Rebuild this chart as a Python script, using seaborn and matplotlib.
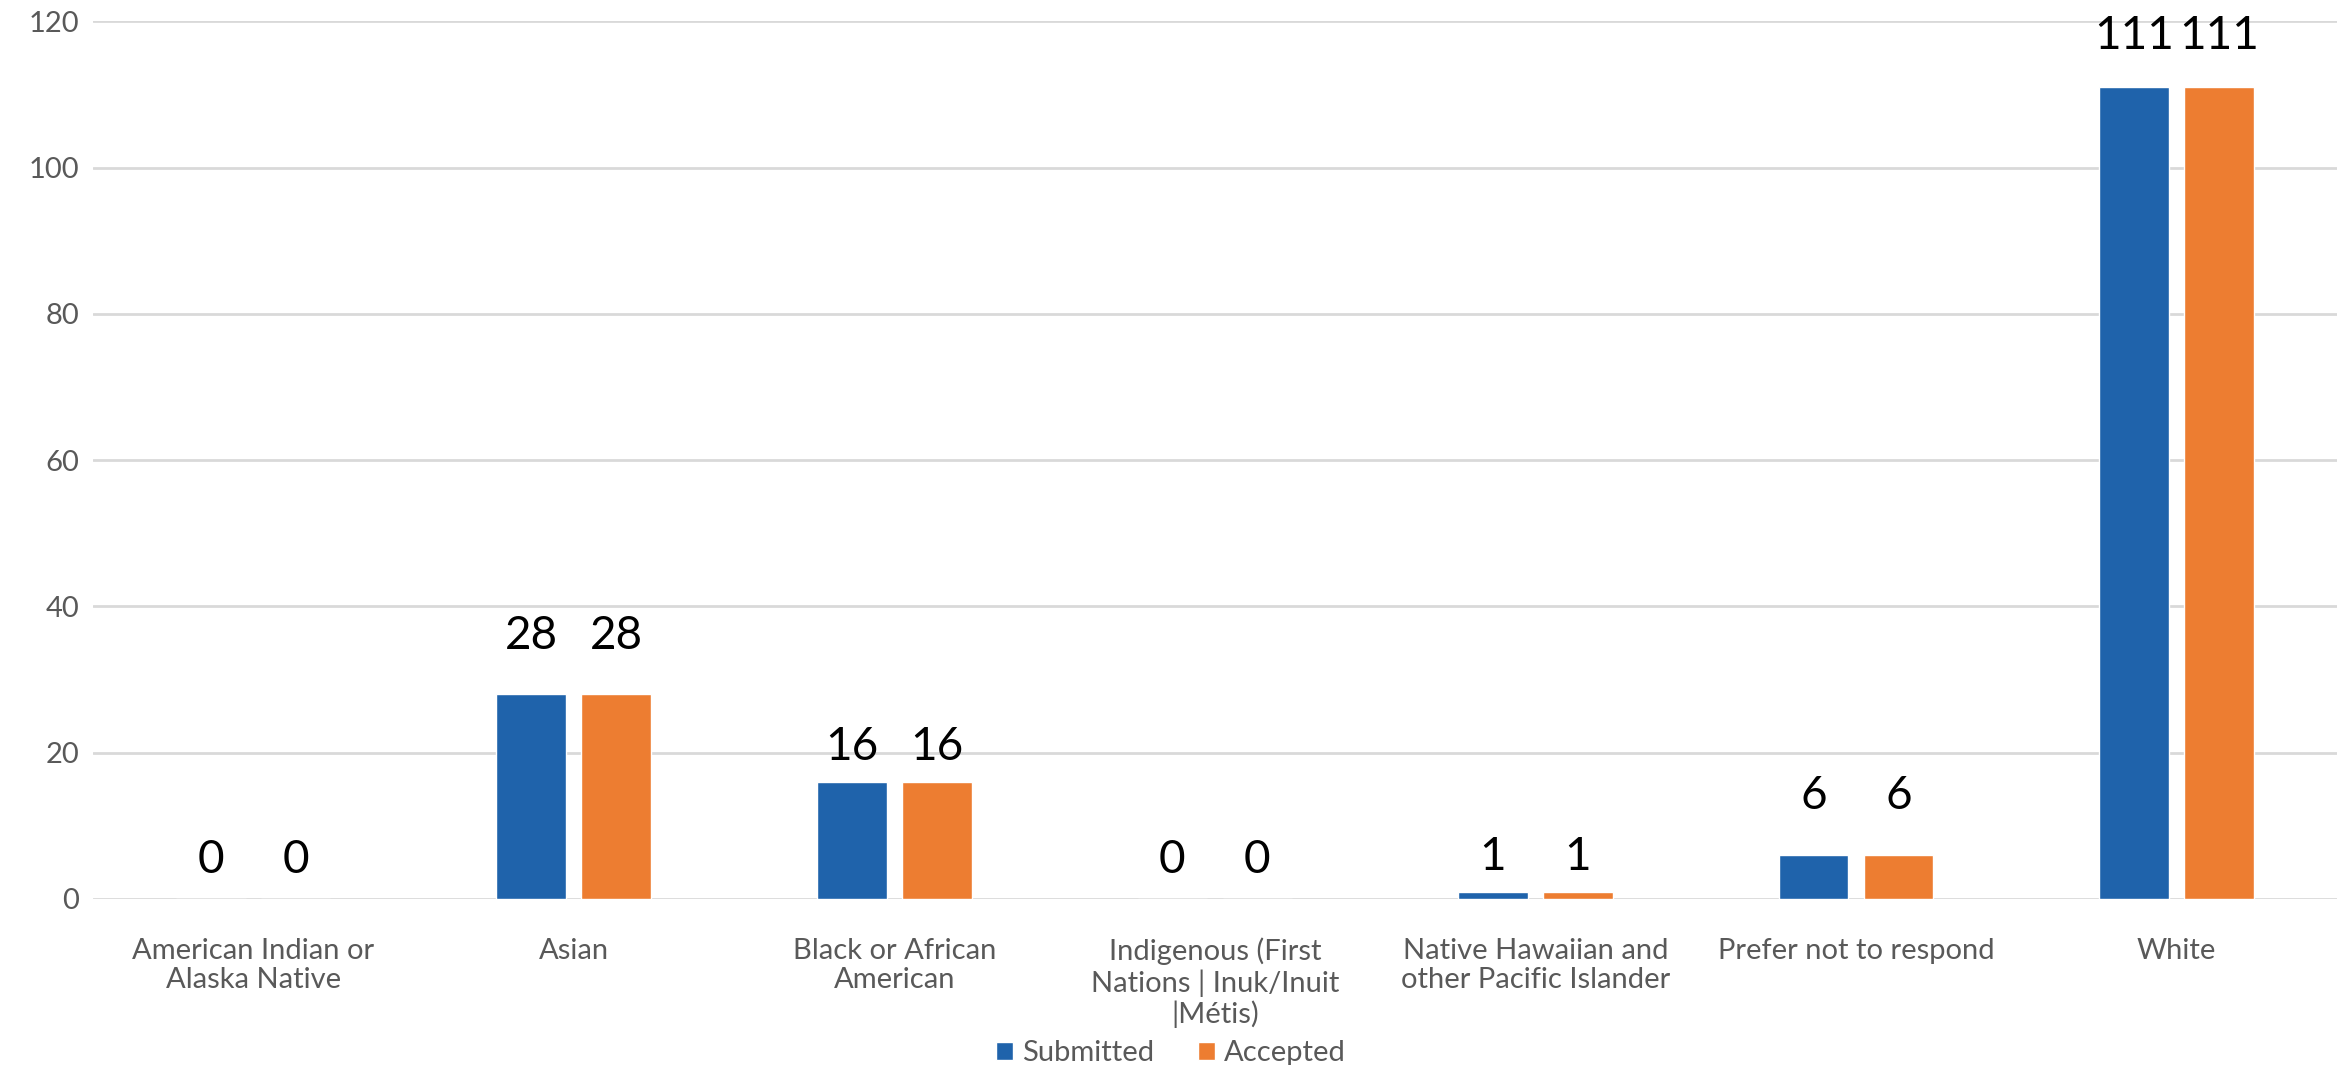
import matplotlib
matplotlib.use("Agg")
import matplotlib.pyplot as plt
import pandas as pd
import seaborn as sns

categories = [
    "American Indian or\nAlaska Native",
    "Asian",
    "Black or African\nAmerican",
    "Indigenous (First\nNations | Inuk/Inuit\n|Métis)",
    "Native Hawaiian and\nother Pacific Islander",
    "Prefer not to respond",
    "White",
]
submitted = [0, 28, 16, 0, 1, 6, 111]
accepted = [0, 28, 16, 0, 1, 6, 111]
series = ["Submitted", "Accepted"]
y_ticks = [0, 20, 40, 60, 80, 100, 120]

colors = {"Submitted": "#1f63ab", "Accepted": "#ed7d31"}
# label offset above each bar (points), per category, as placed in the original
label_pads = [13, 27, 10, 13, 10, 27, 22]

df = pd.DataFrame({
    "Race": categories * 2,
    "Count": submitted + accepted,
    "Status": [series[0]] * len(categories) + [series[1]] * len(categories),
})

sns.set_style("white")
plt.rcParams["font.family"] = ["Lato", "DejaVu Sans"]

fig = plt.figure(figsize=(23.46, 10.65), dpi=100)
ax = fig.add_axes([0.0396, 0.156, 0.9565, 0.824])

sns.barplot(data=df, x="Race", y="Count", hue="Status", palette=colors,
            width=0.53, gap=0.18, ax=ax, saturation=1)

ax.set_ylim(0, 120)
ax.set_yticks(y_ticks)
ax.yaxis.grid(True, color="#d9d9d9", linewidth=2)
ax.set_axisbelow(True)
for s in ax.spines.values():
    s.set_visible(False)

ax.set_xlabel("")
ax.set_ylabel("")
ax.tick_params(axis="y", length=0, pad=10, labelsize=21, labelcolor="#595959")
ax.tick_params(axis="x", length=0, pad=28, labelsize=21, labelcolor="#595959")
for t in ax.get_xticklabels():
    t.set_linespacing(1.17)

for container in ax.containers:
    for i, bar in enumerate(container):
        h = bar.get_height()
        ax.annotate(f"{h:.0f}", (bar.get_x() + bar.get_width() / 2, h),
                    xytext=(0, label_pads[i]), textcoords="offset points",
                    ha="center", va="bottom", fontsize=33, color="black",
                    annotation_clip=False)

handles, labels = ax.get_legend_handles_labels()
ax.legend().remove()
fig.legend(handles, labels, loc="center", bbox_to_anchor=(0.499, 0.011),
           ncol=2, frameon=False, fontsize=21, labelcolor="#595959",
           handlelength=0.6, handleheight=0.6, handletextpad=0.3,
           columnspacing=1.5, borderpad=0)

fig.savefig("out.png", dpi=100)
